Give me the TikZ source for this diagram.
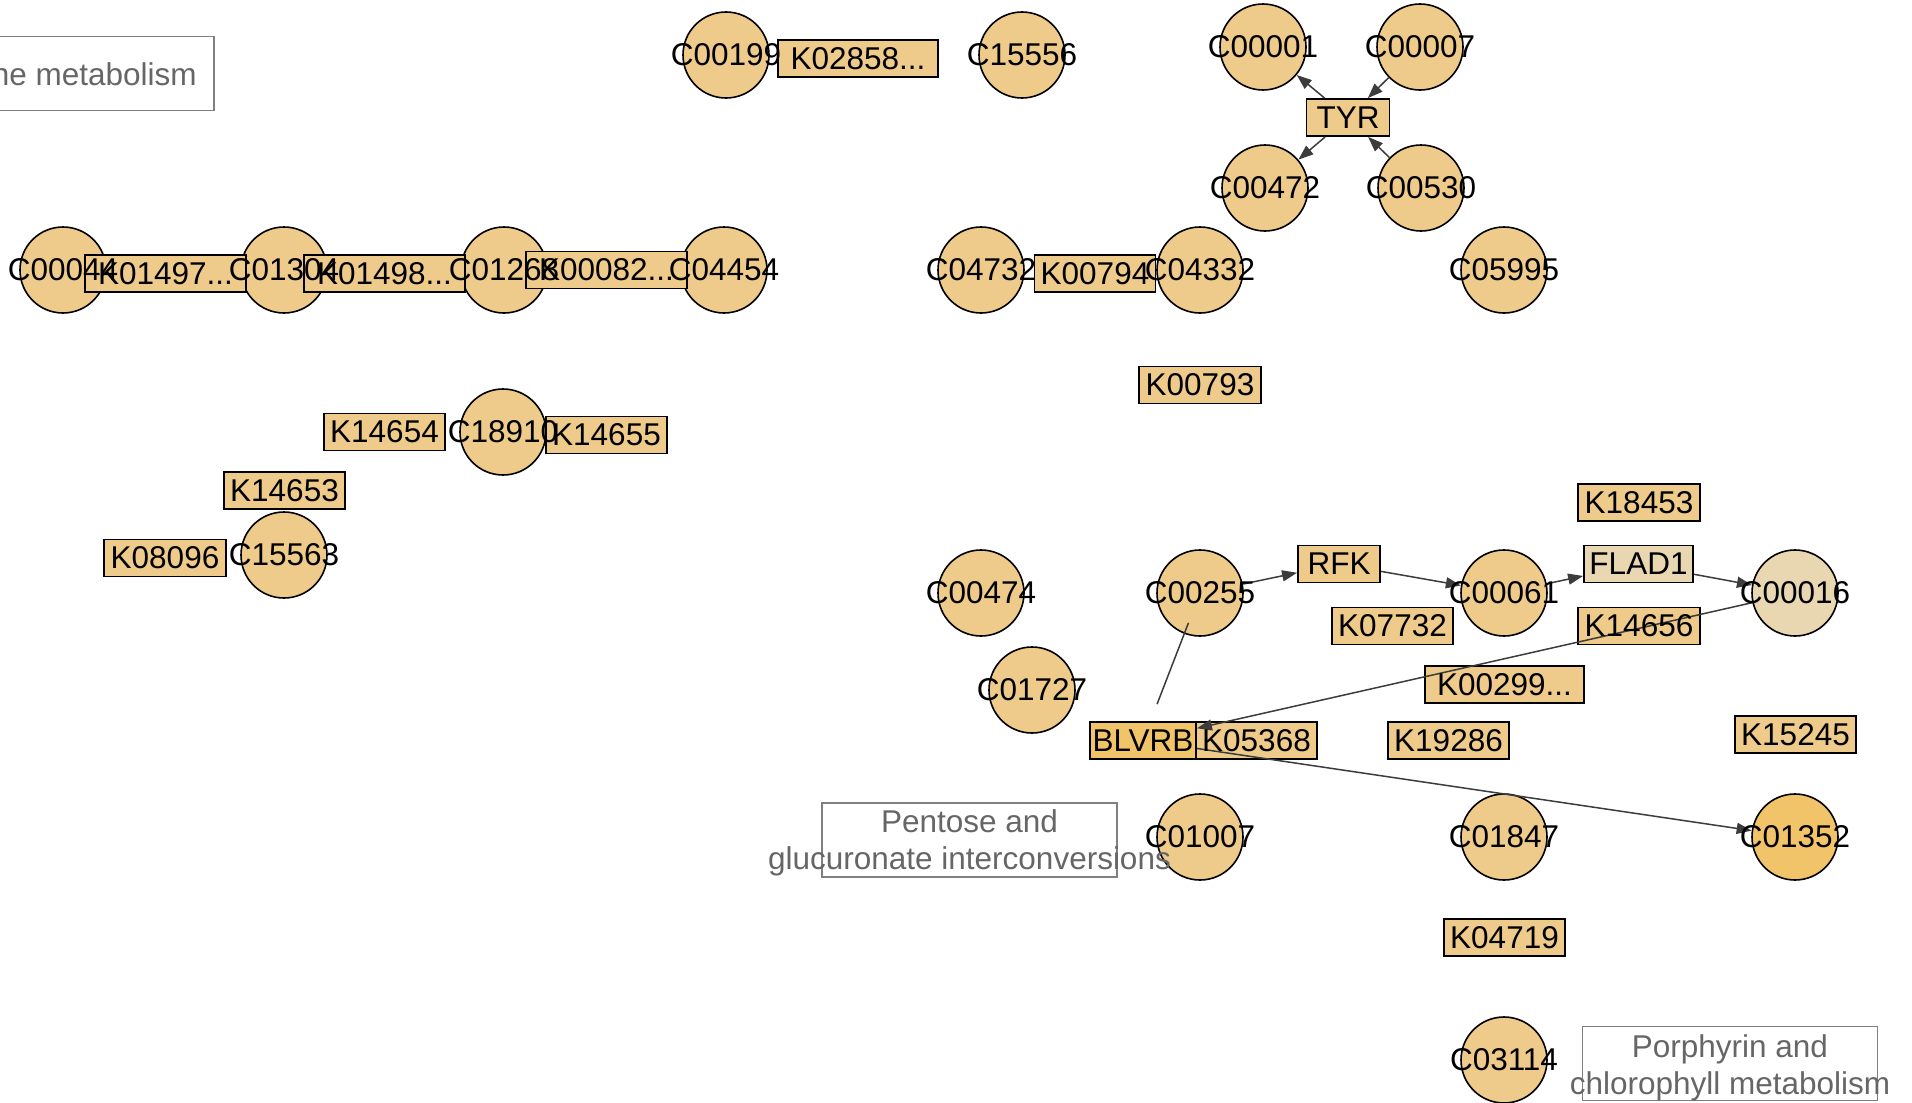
\documentclass[tikz,border=0pt]{standalone}
\usepackage{fontspec}
\setmainfont{Liberation Sans}
\usetikzlibrary{arrows.meta}
\definecolor{nfill}{RGB}{238,203,139}
\definecolor{dfill}{RGB}{242,196,106}
\definecolor{lfill}{RGB}{233,215,177}
\definecolor{ecol}{RGB}{60,60,60}
\definecolor{lgray}{RGB}{128,128,128}
\definecolor{tgray}{RGB}{102,102,102}
\newcommand{\nodefont}{\fontsize{15.75pt}{18.5pt}\selectfont}
\newcommand{\tdots}{...}
\begin{document}
\begin{tikzpicture}[x=0.5pt,y=-0.5pt,
  cpd/.style={circle, draw=black, line width=0.8pt, fill=nfill, minimum size=43pt, inner sep=0pt},
  gene/.style={rectangle, draw=black, line width=0.9pt, fill=nfill, minimum height=18.5pt, inner sep=0pt},
  lbl/.style={rectangle, draw=lgray, line width=0.8pt, minimum width=147.5pt, minimum height=37pt, inner sep=0pt},
  ltxt/.style={text=tgray, font=\nodefont, align=center, inner sep=0pt},
  ntext/.style={text=black, font=\nodefont, inner sep=0pt},
  conn/.style={draw=ecol, line width=0.75pt},
  arr/.style={conn, -{Triangle[length=7.5pt,width=5.5pt]}}
]
\useasboundingbox (0,0) rectangle (1912,1103);
% label boxes
\node[lbl] (L1box) at (66.5,73.5) {};
\node[lbl] (L2box) at (969.5,840) {};
\node[lbl] (L3box) at (1730,1063.5) {};
% compounds
\foreach \n/\x/\y in {C00199/726/55, C15556/1022/55, C00001/1263/47, C00007/1420/47,
  C00472/1265/188, C00530/1421/188, C00044/63/270, C01304/284/270, C01268/504/270,
  C04454/724/270, C04732/981/270, C04332/1200/270, C05995/1504/270, C18910/503/432,
  C15563/284/555, C00474/981/593, C00255/1200/593, C00061/1504/593, C01727/1032/690,
  C01007/1200/837, C01847/1504/837, C03114/1504/1060}
  \node[cpd] (\n) at (\x,\y) {};
\node[cpd, fill=lfill] (C00016) at (1795,593) {};
\node[cpd, fill=dfill] (C01352) at (1795,837) {};
% genes
\foreach \n/\x/\y/\w in {K02858/858/58.5/80, TYR/1348/117.5/41.5, K01497/165.5/273.5/80.5,
  K01498/384.5/273.5/80.5, K00082/606.5/270/80.5, K00794/1095/273.5/60.5, K00793/1200/385/61,
  K14654/384.5/432/60.5, K14655/606.5/435/60.5, K14653/284.5/490.5/60.5, K08096/165/558/61,
  K18453/1639/502.5/61, RFK/1339/564/41, K07732/1392.5/626/60.5, K14656/1639/626/61,
  K00299/1504.5/684.5/79.5, K05368/1256.5/740.5/60.5, K19286/1448.5/740.5/60.5,
  K15245/1795.5/734.5/60.5, K04719/1504.5/937.5/60.5}
  \node[gene, minimum width=\w pt] (\n) at (\x,\y) {};
\node[gene, fill=lfill, minimum width=54.5pt] (FLAD1) at (1638.5,564) {};
\node[gene, fill=dfill, minimum width=53pt] (BLVRB) at (1143,740.5) {};
% connectors
\draw[arr] (TYR) -- (C00001);
\draw[arr] (C00007) -- (TYR);
\draw[arr] (TYR) -- (C00472);
\draw[arr] (C00530) -- (TYR);
\draw[arr] (C00255) -- (RFK);
\draw[arr] (RFK) -- (C00061);
\draw[arr] (C00061) -- (FLAD1);
\draw[arr] (FLAD1) -- (C00016);
\draw[arr] (C00016) -- (BLVRB);
\draw[arr] (BLVRB) -- (C01352);
\draw[conn, shorten <=16pt, shorten >=19.5pt] (C00255.center) -- (BLVRB.center);
% texts
\foreach \n in {C00199, C15556, C00001, C00007, C00472, C00530, C00044, C01304, C01268,
  C04454, C04732, C04332, C05995, C18910, C15563, C00474, C00255, C00061, C01727,
  C01007, C01847, C03114, C00016, C01352}
  \node[ntext] (t\n) at (\n.center) {\n};
\foreach \n/\t in {K02858/K02858\tdots, TYR/TYR, K01497/K01497\tdots, K01498/K01498\tdots,
  K00082/K00082\tdots, K00794/K00794, K00793/K00793, K14654/K14654, K14655/K14655,
  K14653/K14653, K08096/K08096, K18453/K18453, RFK/RFK, K07732/K07732, K14656/K14656,
  K00299/K00299\tdots, K05368/K05368, K19286/K19286, K15245/K15245, K04719/K04719,
  FLAD1/FLAD1, BLVRB/BLVRB}
  \node[ntext] (t\n) at (\n.center) {\t};
\node[ltxt, anchor=base east] (L1txt) at (197,85) {ne metabolism};
\node[ltxt] (L2txt) at (969.5,843) {Pentose and\\glucuronate interconversions};
\node[ltxt] (L3txt) at (1730,1067.5) {Porphyrin and\\chlorophyll metabolism};
\end{tikzpicture}
\end{document}
